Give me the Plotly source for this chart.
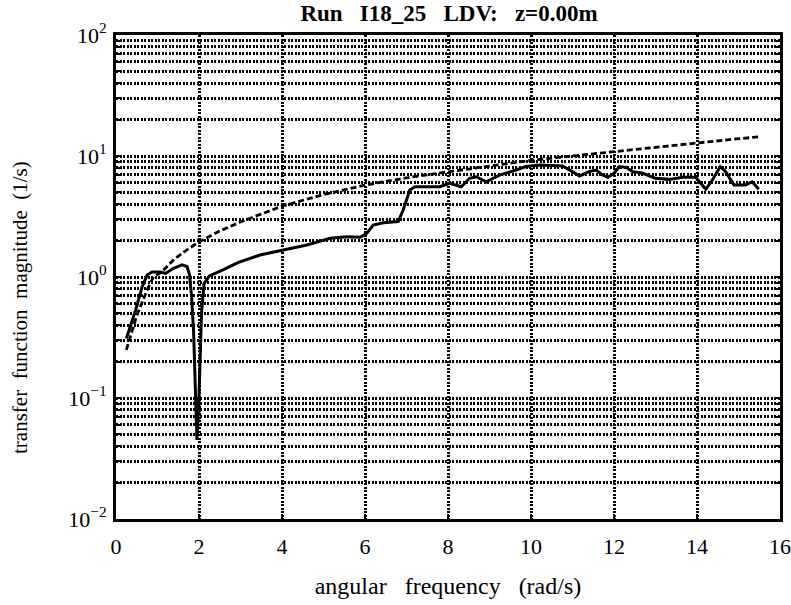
import plotly.graph_objects as go

# ---- data ----
meas_x = [0.25, 0.47, 0.63, 0.75, 0.87, 1.07, 1.19, 1.39, 1.59, 1.71, 1.77, 1.82, 1.87, 1.91, 1.95,
          1.99, 2.02, 2.06, 2.12, 2.25, 2.59, 2.95, 3.47, 4.03, 4.6, 5.16, 5.56, 5.88, 6.04, 6.2,
          6.44, 6.8, 6.92, 7.08, 7.2, 7.48, 7.8, 8.04, 8.32, 8.52, 8.68, 8.92, 9.24, 9.64, 9.88,
          10.2, 10.76, 11.0, 11.17, 11.4, 11.57, 11.72, 11.85, 12.0, 12.13, 12.29, 12.45, 12.69,
          13.0, 13.33, 13.65, 13.97, 14.09, 14.21, 14.37, 14.56, 14.69, 14.89, 15.17, 15.33, 15.49]
meas_y = [0.31, 0.53, 0.83, 1.04, 1.10, 1.10, 1.07, 1.18, 1.26, 1.22, 1.05, 0.70, 0.35, 0.14, 0.045,
          0.08, 0.20, 0.50, 0.88, 1.02, 1.15, 1.32, 1.52, 1.67, 1.84, 2.09, 2.15, 2.13, 2.29, 2.69,
          2.81, 2.87, 3.58, 5.23, 5.57, 5.57, 5.57, 5.95, 5.57, 6.54, 6.74, 6.13, 6.96, 7.66, 8.18,
          8.42, 8.27, 7.43, 6.84, 7.43, 7.66, 6.96, 6.67, 7.2, 8.18, 8.06, 7.43, 7.2,
          6.54, 6.41, 6.67, 6.67, 5.95, 5.31, 6.33, 8.18, 7.43, 5.77, 5.77, 6.13, 5.31]

theory_x = [0.25, 0.5, 0.75, 0.9, 1.1, 1.4, 1.7, 2.0, 2.5, 3.0, 4.0, 5.0, 6.0, 7.0, 8.0, 9.0,
            10.0, 11.0, 12.0, 13.0, 14.0, 15.0, 15.5]
theory_y = [0.25, 0.48, 0.78, 1.0, 1.1, 1.4, 1.67, 1.95, 2.4, 2.85, 3.85, 4.8, 5.75, 6.6, 7.4, 8.3,
            9.2, 10.0, 10.9, 11.8, 12.8, 13.9, 14.4]

x_ticks = [0, 2, 4, 6, 8, 10, 12, 14, 16]
y_ticks = [0.01, 0.1, 1, 10, 100]
y_tick_labels = ["10<sup>\u22122</sup>", "10<sup>\u22121</sup>", "10<sup>0</sup>",
                 "10<sup>1</sup>", "10<sup>2</sup>"]

SP = "\u00a0"
title_text = f"Run{SP*3}I18_25{SP*3}LDV:{SP*3}z=0.00m"
x_title = f"angular{SP*3}frequency{SP*3}(rad/s)"
y_title = f"transfer{SP*2}function{SP*2}magnitude{SP*2}(1/s)"

FONT = "Liberation Serif"

fig = go.Figure()
fig.add_trace(go.Scatter(x=theory_x, y=theory_y, mode="lines",
                         line=dict(color="black", width=2.8, dash="6px,3px"),
                         showlegend=False))
fig.add_trace(go.Scatter(x=meas_x, y=meas_y, mode="lines",
                         line=dict(color="black", width=3),
                         showlegend=False))

grid_common = dict(gridcolor="black", gridwidth=2.5, griddash="2px,1.5px")

fig.update_layout(
    width=791, height=605,
    margin=dict(l=116, r=11, t=35, b=86),
    paper_bgcolor="white", plot_bgcolor="white",
    font=dict(family=FONT, color="black", size=20),
    title=dict(text=title_text, x=449 / 791, xanchor="center", y=1 - 13 / 605, yanchor="middle",
               yref="container", automargin=False,
               font=dict(family=FONT, size=23, color="black", weight="bold")),
    xaxis=dict(range=[0, 16], tickvals=x_ticks, ticktext=[str(v) for v in x_ticks],
               automargin=False,
               showline=True, linecolor="black", linewidth=3, mirror=True,
               ticks="inside", ticklen=5, tickwidth=2, tickcolor="black",
               showgrid=True, **grid_common, zeroline=False,
               tickfont=dict(family=FONT, size=22), ticklabelstandoff=6,
               title=dict(text=x_title, font=dict(family=FONT, size=24), standoff=19)),
    yaxis=dict(type="log", range=[-2, 2], tickvals=y_ticks, ticktext=y_tick_labels,
               automargin=False,
               showline=True, linecolor="black", linewidth=3, mirror="allticks",
               ticks="inside", ticklen=6, tickwidth=2, tickcolor="black",
               showgrid=True, **grid_common, zeroline=False,
               tickfont=dict(family=FONT, size=22), ticklabelstandoff=2,
               minor=dict(dtick="D1", ticks="inside", ticklen=5, tickwidth=2, tickcolor="black",
                          showgrid=True, **grid_common)),
    annotations=[dict(text=y_title, textangle=-90, xref="paper", yref="paper",
                      x=(20 - 116) / 664, y=(519 - 308) / 484, xanchor="center", yanchor="middle",
                      showarrow=False, font=dict(family=FONT, size=21, color="black"))],
)

fig.write_html("out.html")
